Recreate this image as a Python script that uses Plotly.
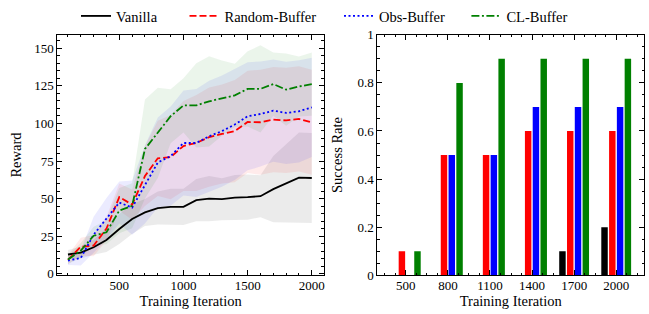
import plotly.graph_objects as go

iters = [100, 200, 300, 400, 500, 600, 700, 800, 900, 1000,
         1100, 1200, 1300, 1400, 1500, 1600, 1700, 1800, 1900, 2000]

vanilla_mean = [12.8, 14.1, 17.6, 22.5, 29.8, 36.4, 40.8, 43.7, 44.5, 44.5,
                49.0, 50.0, 49.6, 50.7, 51.0, 51.6, 56.3, 60.2, 64.0, 63.7]
vanilla_std = [3, 4, 5, 8, 10, 10, 9, 11, 12, 12,
               14, 15, 14, 15, 15, 14, 22, 26, 30, 30]

random_mean = [9.3, 18.0, 18.7, 30.0, 51.0, 46.0, 65.0, 76.8, 77.6, 85.0,
               87.0, 90.9, 93.0, 94.9, 101.0, 100.8, 102.6, 102.0, 103.0, 100.8]
random_std = [3, 6, 7, 8, 9, 10, 20, 25, 28, 30,
              32, 33, 33, 34, 34, 35, 35, 35, 35, 35]

obs_mean = [8.8, 10.5, 26.0, 36.4, 47.4, 44.0, 59.5, 74.0, 78.3, 87.0,
            87.0, 91.5, 94.9, 99.3, 104.8, 106.3, 108.5, 107.0, 108.1, 110.7]
obs_std = [3, 5, 12, 14, 14, 18, 26, 30, 33, 35,
           36, 37, 37, 37, 36, 35, 34, 34, 34, 33]

cl_mean = [9.5, 15.4, 25.3, 27.6, 42.0, 45.2, 83.0, 93.7, 104.8, 112.0,
           112.0, 114.7, 116.9, 118.7, 123.0, 123.0, 126.2, 122.5, 124.6, 126.2]
cl_std = [3, 5, 6, 8, 15, 15, 33, 30, 18, 18,
          28, 30, 25, 21, 25, 29, 21, 24, 20, 21]

bar_iters = [500, 800, 1100, 1400, 1700, 2000]
vanilla_sr = [0, 0, 0, 0, 0.1, 0.2]
random_sr = [0.1, 0.5, 0.5, 0.6, 0.6, 0.6]
obs_sr = [0, 0.5, 0.5, 0.7, 0.7, 0.7]
cl_sr = [0.1, 0.8, 0.9, 0.9, 0.9, 0.9]

names = ["Vanilla", "Random-Buffer", "Obs-Buffer", "CL-Buffer"]
colors = ["#000000", "#ff0000", "#0000ff", "#008000"]
fills = ["rgba(0,0,0,0.08)", "rgba(255,0,0,0.08)", "rgba(0,0,255,0.08)", "rgba(0,128,0,0.08)"]
dashes = ["solid", "7px,3px", "2px,2.5px", "8px,2.5px,2px,2.5px"]
means = [vanilla_mean, random_mean, obs_mean, cl_mean]
stds = [vanilla_std, random_std, obs_std, cl_std]
srs = [vanilla_sr, random_sr, obs_sr, cl_sr]
legend_ids = ["legend", "legend2", "legend3", "legend4"]
legend_left_px = [76, 184.5, 339, 466.4]

W, H = 649, 314
FONT = "Liberation Serif"
TICK = 13
TITLE = 14.5
fig = go.Figure()

for m, s, fc in zip(means, stds, fills):
    upper = [a + b for a, b in zip(m, s)]
    lower = [a - b for a, b in zip(m, s)]
    fig.add_trace(go.Scatter(x=iters + iters[::-1], y=upper + lower[::-1],
                             fill="toself", fillcolor=fc, line=dict(width=0),
                             mode="lines", showlegend=False, hoverinfo="skip",
                             xaxis="x", yaxis="y"))

for m, n, c, d, lg in zip(means, names, colors, dashes, legend_ids):
    fig.add_trace(go.Scatter(x=iters, y=m, mode="lines", name=n, legend=lg,
                             line=dict(color=c, width=1.8, dash=d),
                             xaxis="x", yaxis="y"))

for sr, n, c in zip(srs, names, colors):
    fig.add_trace(go.Bar(x=bar_iters, y=sr, name=n, marker=dict(color=c, line=dict(width=0)),
                         showlegend=False, xaxis="x2", yaxis="y2"))

axis_common = dict(showline=True, linecolor="black", linewidth=1, mirror="allticks",
                   ticks="inside", ticklen=5, tickwidth=1, tickcolor="black",
                   showgrid=False, zeroline=False, automargin=False,
                   tickfont=dict(family=FONT, size=TICK, color="black"))

legends = {}
for lg, lx in zip(legend_ids, legend_left_px):
    legends[lg] = dict(orientation="h", x=lx / W, xanchor="left",
                       y=1 - 14 / H, yanchor="middle",
                       font=dict(family=FONT, size=14.5), bgcolor="rgba(0,0,0,0)")

fig.update_layout(
    width=W, height=H,
    margin=dict(l=0, r=0, t=0, b=0),
    paper_bgcolor="white", plot_bgcolor="white",
    barmode="group", bargap=0.26, bargroupgap=0.17,
    font=dict(family=FONT, size=TITLE, color="black"),
    xaxis=dict(domain=[0.0883, 0.4992], range=[17, 2095], tickvals=[500, 1000, 1500, 2000],
               minor=dict(dtick=100, tick0=0, ticklen=2.5, ticks="inside", tickcolor="black"),
               title=dict(text="Training Iteration", font=dict(family=FONT, size=TITLE), standoff=0),
               ticklabelstandoff=-2, anchor="y", **axis_common),
    yaxis=dict(domain=[0.1242, 0.8949], range=[-1, 159], tickvals=[0, 25, 50, 75, 100, 125, 150],
               minor=dict(dtick=5, tick0=0, ticklen=2.5, ticks="inside", tickcolor="black"),
               title=dict(text="Reward", font=dict(family=FONT, size=TITLE), standoff=9),
               anchor="x", **axis_common),
    xaxis2=dict(domain=[0.5814, 0.9927], range=[297, 2200], tickvals=bar_iters,
                ticktext=[str(v) for v in bar_iters],
                minor=dict(dtick=75, tick0=500, ticklen=2.5, ticks="inside", tickcolor="black"),
                title=dict(text="Training Iteration", font=dict(family=FONT, size=TITLE), standoff=0),
                ticklabelstandoff=-2, anchor="y2", **axis_common),
    yaxis2=dict(domain=[0.1242, 0.8949], range=[0, 1], tickvals=[0, 0.2, 0.4, 0.6, 0.8, 1],
                ticktext=["0", "0.2", "0.4", "0.6", "0.8", "1"],
                minor=dict(dtick=0.05, tick0=0, ticklen=2.5, ticks="inside", tickcolor="black"),
                title=dict(text="Success Rate", font=dict(family=FONT, size=TITLE), standoff=11),
                anchor="x2", **axis_common),
    **legends,
)

fig.write_html("out.html", config={"displayModeBar": False},
               post_script="document.body.style.margin='0';")
